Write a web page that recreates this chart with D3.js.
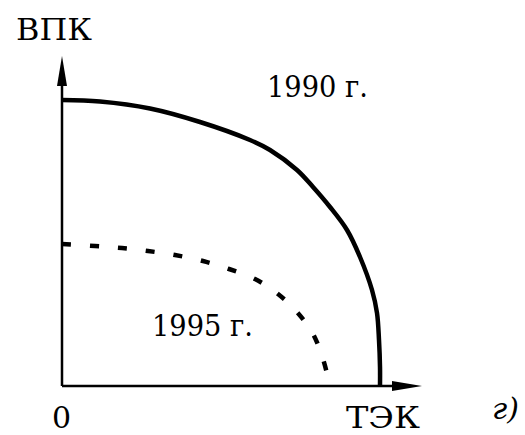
<!DOCTYPE html>
<html>
<head>
<meta charset="utf-8">
<script src="https://cdn.jsdelivr.net/npm/d3@7"></script>
<style>
  body { margin: 0; background: #fff; }
  svg text { font-family: "DejaVu Serif", "Liberation Serif", serif; }
</style>
</head>
<body>
<div id="chart"></div>
<script>
// production possibility curves (arbitrary units)
const curve1990 = [
  [0, 286], [38, 284.5], [88, 277.5], [138, 264], [188, 246], [208, 236],
  [235, 216], [251, 199], [268, 179], [285, 156], [298, 129], [310, 96],
  [315, 73], [317, 46], [318, 19], [318, 0]
]
const curve1995 = [
  [0, 142], [33, 140], [60, 138], [86, 135], [113, 131], [141, 125],
  [167, 117], [193, 107], [216, 92], [235, 74], [251, 52], [261, 27], [268, 0]
]
const seriesLabels = ["1990 г.", "1995 г."]
const axisLabels = ["ВПК", "ТЭК", "0"]
const panelLabel = "г)"

const width = 525, height = 435

const x = d3.scaleLinear().domain([0, 360]).range([62, 422])
const y = d3.scaleLinear().domain([0, 330]).range([386, 56])

const svg = d3.select("#chart")
  .append("svg")
  .attr("width", width)
  .attr("height", height)

const line = d3.line()
  .x(d => x(d[0]))
  .y(d => y(d[1]))
  .curve(d3.curveCatmullRom.alpha(0.5))

// axes with arrow heads
const axes = svg.append("g").attr("class", "axes")
axes.append("path")
  .attr("d", `M${x(0)},${y(0)}V${y(330) + 20}M${x(0)},${y(0)}H${x(360) - 20}`)
  .attr("stroke", "#000")
  .attr("stroke-width", 2.5)
  .attr("fill", "none")
axes.append("path")
  .attr("d", `M${x(0)},${y(330)}L${x(0) - 5},${y(330) + 30}L${x(0) + 5},${y(330) + 30}Z`)
  .attr("fill", "#000")
axes.append("path")
  .attr("d", `M${x(360)},${y(0)}L${x(360) - 30},${y(0) - 5}L${x(360) - 30},${y(0) + 5}Z`)
  .attr("fill", "#000")

svg.append("path")
  .attr("class", "curve-1990")
  .attr("d", line(curve1990))
  .attr("fill", "none")
  .attr("stroke", "#000")
  .attr("stroke-width", 4.5)

svg.append("path")
  .attr("class", "curve-1995")
  .attr("d", line(curve1995))
  .attr("fill", "none")
  .attr("stroke", "#000")
  .attr("stroke-width", 4.5)
  .attr("stroke-dasharray", "9,19")

// labels
const labels = [
  { t: axisLabels[0], x: 16, y: 40, w: 76 },
  { t: axisLabels[1], x: 346, y: 428, w: 74 },
  { t: axisLabels[2], x: 52, y: 428, w: 0 },
  { t: seriesLabels[0], x: 267, y: 97, w: 101 },
  { t: seriesLabels[1], x: 152, y: 336, w: 101 }
]
svg.selectAll("text.lbl")
  .data(labels)
  .enter()
  .append("text")
    .attr("class", "lbl")
    .attr("x", d => d.x)
    .attr("y", d => d.y)
    .attr("font-size", 30)
    .attr("fill", "#000")
    .attr("textLength", d => d.w || null)
    .attr("lengthAdjust", "spacingAndGlyphs")
    .text(d => d.t)

svg.append("text")
  .attr("x", 492)
  .attr("y", 419)
  .attr("font-size", 30)
  .attr("font-style", "italic")
  .attr("fill", "#000")
  .text(panelLabel)
</script>
</body>
</html>
